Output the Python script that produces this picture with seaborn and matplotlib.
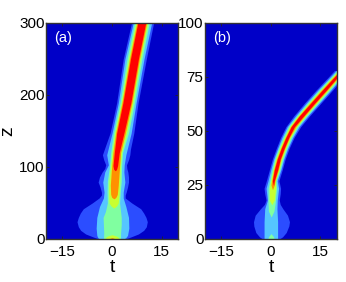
import matplotlib
matplotlib.use("Agg")
import matplotlib.pyplot as plt
import seaborn as sns

sns.set_style("ticks", {"text.color": "black", "xtick.color": "black", "ytick.color": "black",
                        "axes.labelcolor": "black"})
plt.rcParams["font.family"] = ["Liberation Sans", "DejaVu Sans"]

# colours of the contour bands, low to high
bg_color = "#0000C8"
band_colors = ["#2B4DFF", "#55C6FF", "#80FFA0", "#C8FF30", "#FF9000", "#FF0000"]

# panel (a): outline of every band, t at each z
a_z0 = [0, 1, 3, 7, 12, 17, 24, 30, 36, 42, 50, 57, 61, 65, 72, 79, 86, 93, 98, 103, 110, 117, 125, 147, 189, 250, 300]
a_l0 = [-3.8, -4.6, -5.8, -8, -9.5, -10.2, -10.6, -10.2, -9.6, -8.7, -6, -3.9, -3.2, -3.2, -3.6, -4.2, -3.8, -3, -2.2, -1.9, -2.5, -2.9, -2.3, -0.6, 1.4, 3.4, 5.9]
a_r0 = [3.8, 4.6, 5.8, 8, 9.6, 10.4, 10.7, 10.3, 9.6, 8.7, 6, 4, 4, 4.3, 4.7, 5, 5, 4.8, 4.5, 4.4, 5, 5.4, 5.6, 6.6, 7.9, 10.4, 12.6]

a_z1 = [0, 2, 5, 15, 30, 45, 57, 65, 79, 93, 103, 117, 147, 189, 250, 300]
a_l1 = [-3.8, -4.3, -4.6, -4.8, -4.6, -3.8, -2.6, -2.4, -2.8, -2.2, -1.1, -1.6, 0, 1.9, 3.9, 6.4]
a_r1 = [3.6, 4.2, 4.7, 5.1, 5, 4.2, 3.4, 3.4, 3.9, 3.6, 3.7, 4.2, 5.8, 7.3, 9.7, 12]

a_z2 = [0, 8, 20, 30, 38, 50, 65, 80, 100, 120, 147, 189, 250, 300]
a_l2 = [-2.6, -2.5, -2.6, -2.7, -2, -1.4, -1.5, -1.4, -0.8, -0.4, 0.4, 2.4, 4.5, 6.8]
a_r2 = [2.6, 2.6, 2.8, 2.8, 2.6, 2.3, 2.5, 2.8, 2.9, 3.2, 5, 6.8, 9.1, 11.3]

a_z3 = [43, 46, 50, 60, 75, 100, 120, 147, 189, 250, 300]
a_l3 = [0.5, -0.3, -0.9, -1, -1, -0.5, 0, 0.8, 2.8, 5, 7.2]
a_r3 = [0.6, 1.4, 1.9, 2.1, 2.3, 2.5, 2.9, 4.4, 6.3, 8.6, 10.8]

a_z4 = [56, 58, 62, 75, 95, 120, 147, 189, 250, 300]
a_l4 = [0.5, -0.1, -0.4, -0.5, -0.2, 0.3, 1.1, 3, 5.3, 7.5]
a_r4 = [0.7, 1.2, 1.6, 1.9, 2.2, 2.6, 4, 6, 8.3, 10.5]

a_z5 = [95, 97, 102, 120, 147, 189, 250, 300]
a_l5 = [0.9, 0.5, 0.3, 0.7, 1.4, 3.3, 5.6, 7.8]
a_r5 = [1.1, 1.4, 1.7, 2.2, 3.6, 5.7, 8, 10.2]

# the little patch at the bottom of (a)
a_z_foot = [0, 2, 4, 6]
a_l_foot = [-2.1, -2, -1.4, 0]
a_r_foot = [2.1, 2, 1.4, 0]
a_z_dot = [0, 1, 2]
a_l_dot = [-0.8, -0.6, 0]
a_r_dot = [0.8, 0.6, 0]

# panel (b)
b_z0 = [0, 1, 3, 6, 8, 11, 14, 16, 18, 21, 23.5, 27, 32, 37, 42, 47, 52, 57, 63, 69, 75, 78]
b_l0 = [-2.5, -3.5, -4.6, -5.2, -5.3, -4.8, -3.2, -2, -1.5, -1.9, -2.1, -1.4, -0.5, 0.4, 1.6, 2.9, 4.5, 6.9, 10.2, 13.7, 17.4, 19.2]
b_r0 = [2.5, 3.5, 4.6, 5.4, 5.6, 5, 3.6, 2.8, 2.5, 2.8, 2.9, 2.4, 3.4, 4.3, 5.5, 7, 9, 11.7, 15.2, 18.7, 22, 24]

b_z1 = [0, 8, 14, 18, 23.5, 27, 32, 37, 42, 47, 52, 57, 63, 69, 75, 78]
b_l1 = [-2.1, -2.1, -1.9, -1.1, -1.5, -0.9, -0.1, 0.8, 2, 3.3, 4.9, 7.4, 10.7, 14.2, 17.9, 19.7]
b_r1 = [2, 2, 1.8, 1.9, 2.3, 1.9, 3, 3.9, 5.1, 6.6, 8.5, 11.2, 14.7, 18.2, 21.5, 23.5]

b_z2 = [10.3, 13, 17, 23.5, 27, 32, 37, 42, 47, 52, 57, 63, 69, 75, 78]
b_l2 = [0, -0.8, -0.9, -0.9, -0.4, 0.3, 1.1, 2.3, 3.7, 5.3, 7.8, 11.1, 14.6, 18.3, 20.1]
b_r2 = [0.1, 0.9, 1.3, 1.7, 1.5, 2.7, 3.6, 4.8, 6.2, 8.1, 10.8, 14.3, 17.8, 21.1, 23.1]

b_z3 = [16, 18, 23.5, 27, 32, 37, 42, 47, 52, 57, 63, 69, 75, 78]
b_l3 = [0.2, -0.5, -0.5, -0.1, 0.6, 1.4, 2.6, 4, 5.6, 8.1, 11.5, 15, 18.6, 20.4]
b_r3 = [0.3, 1, 1.4, 1.4, 2.4, 3.3, 4.5, 5.9, 7.8, 10.5, 13.9, 17.4, 20.8, 22.8]

b_z4 = [23, 25, 27, 32, 37, 42, 47, 52, 57, 63, 69, 75, 78]
b_l4 = [0.4, 0, 0.2, 0.8, 1.7, 2.9, 4.3, 5.9, 8.4, 11.8, 15.3, 18.9, 20.7]
b_r4 = [0.5, 1, 1.2, 2.2, 3, 4.2, 5.6, 7.5, 10.2, 13.6, 17.1, 20.5, 22.5]

b_z5 = [25, 27, 32, 37, 42, 47, 52, 57, 63, 69, 75, 78]
b_l5 = [0.7, 0.4, 1, 1.9, 3.1, 4.5, 6.1, 8.6, 12.1, 15.6, 19.2, 21]
b_r5 = [0.8, 1, 2, 2.8, 4, 5.4, 7.1, 9.9, 13.3, 16.8, 20.2, 22.2]

b_z_foot = [0, 1.2, 2.5]
b_l_foot = [-1, -0.7, 0]
b_r_foot = [1, 0.7, 0]

t_ticks = [-15, 0, 15]
t_ticklabels = ["\u221215", "0", "15"]
a_z_ticks = [0, 100, 200, 300]
b_z_ticks = [0, 25, 50, 75, 100]

a_bands = [(a_z0, a_l0, a_r0), (a_z1, a_l1, a_r1), (a_z2, a_l2, a_r2),
           (a_z3, a_l3, a_r3), (a_z4, a_l4, a_r4), (a_z5, a_l5, a_r5)]
b_bands = [(b_z0, b_l0, b_r0), (b_z1, b_l1, b_r1), (b_z2, b_l2, b_r2),
           (b_z3, b_l3, b_r3), (b_z4, b_l4, b_r4), (b_z5, b_l5, b_r5)]


def draw_panel(ax, bands, zmax, zticks, letter):
    ax.set_facecolor(bg_color)
    for (z, left, right), col in zip(bands, band_colors):
        ax.fill_betweenx(z, left, right, color=col, lw=0)
    ax.set_xlim(-20, 20)
    ax.set_ylim(0, zmax)
    ax.set_xticks(t_ticks)
    ax.set_xticklabels(t_ticklabels)
    ax.set_yticks(zticks)
    ax.tick_params(direction="in", top=True, right=True, length=2.5, width=0.6,
                   labelsize=11, color="#222222")
    ax.tick_params(axis="x", pad=4)
    ax.tick_params(axis="y", pad=1)
    for sp in ax.spines.values():
        sp.set_linewidth(1.0)
        sp.set_color("#333333")
    ax.set_xlabel("t", fontsize=14, labelpad=0)
    ax.text(0.06, 0.93, letter, color="white", fontsize=10.5, transform=ax.transAxes,
            ha="left", va="center")


fig = plt.figure(figsize=(3.46, 2.82), dpi=100)
W, H = 346, 282
ax_a = fig.add_axes([46 / W, 1 - 239 / H, 132 / W, 216 / H])
ax_b = fig.add_axes([205 / W, 1 - 239 / H, 132 / W, 216 / H])

draw_panel(ax_a, a_bands, 300, a_z_ticks, "(a)")
ax_a.fill_betweenx(a_z_foot, a_l_foot, a_r_foot, color=band_colors[3], lw=0)
ax_a.fill_betweenx(a_z_dot, a_l_dot, a_r_dot, color=band_colors[4], lw=0)

draw_panel(ax_b, b_bands, 100, b_z_ticks, "(b)")
ax_b.fill_betweenx(b_z_foot, b_l_foot, b_r_foot, color=band_colors[2], lw=0)

ax_a.set_ylabel("z", fontsize=14, labelpad=2)

fig.savefig("out.png", dpi=100)
